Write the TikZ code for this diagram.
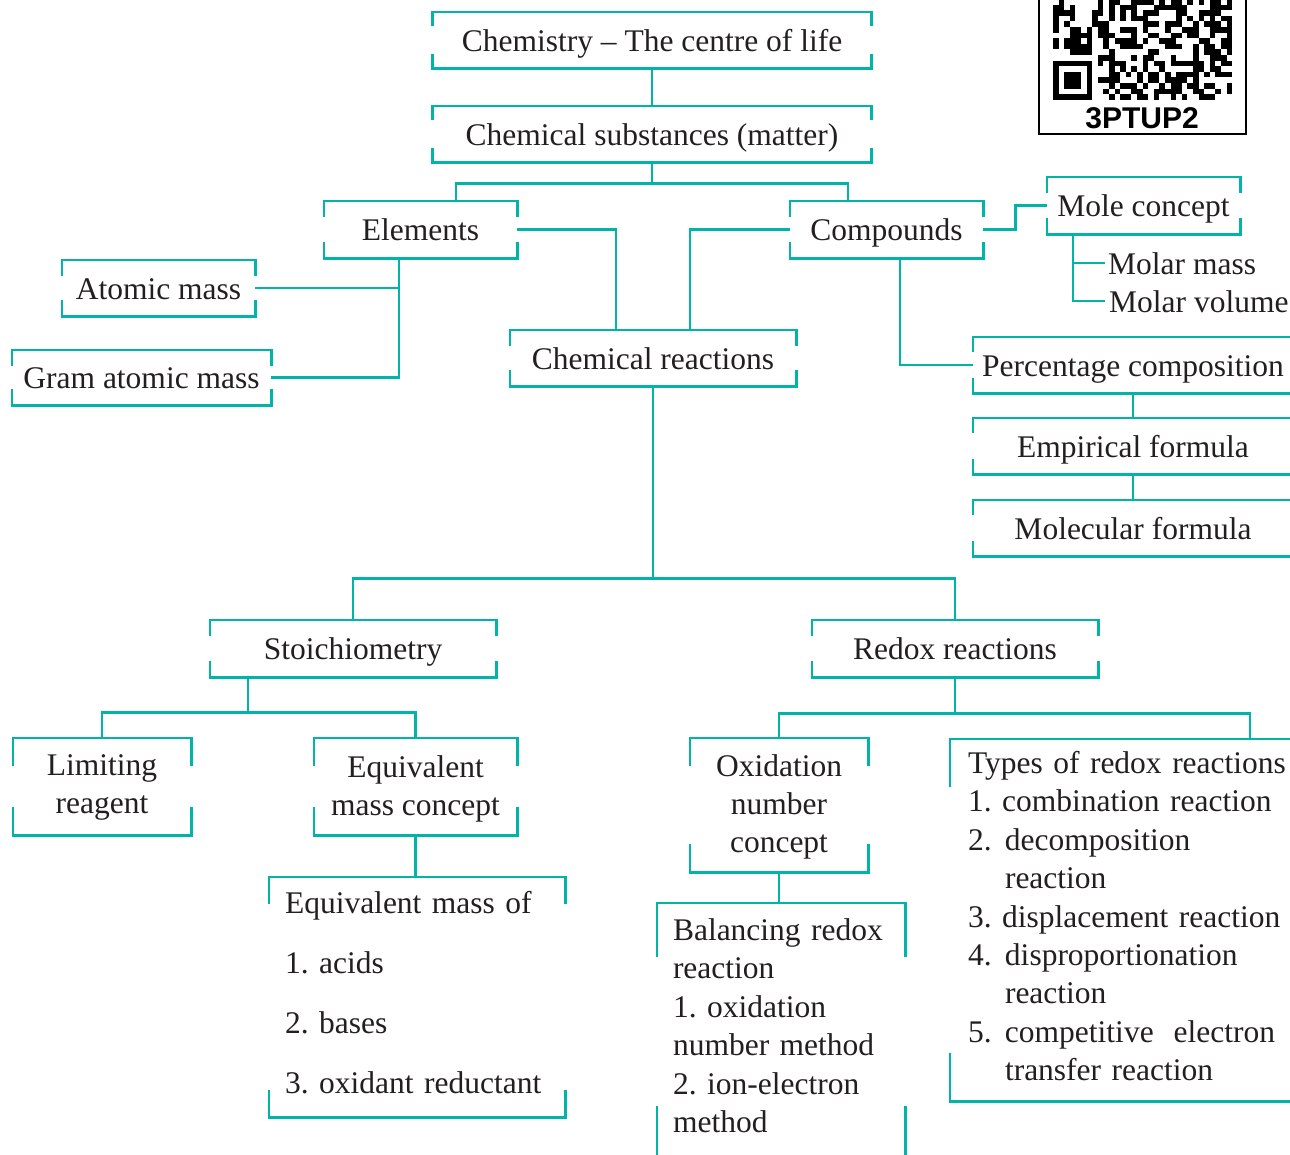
\documentclass[tikz,border=0pt]{standalone}
\usepackage{fontspec}
\setmainfont{Liberation Serif}
\newfontfamily\qrfont{Liberation Sans}
\usetikzlibrary{positioning,calc}

\definecolor{mapteal}{RGB}{0,180,170}
\definecolor{ink}{RGB}{35,31,32}
\newcommand{\mapfont}{\fontsize{31.5}{38.4}\selectfont}
% open box: top and bottom rules with short side ticks
\newcommand{\bframe}[2]{%
  \draw[link] ([yshift=-#2pt]#1.north west) -- (#1.north west) -- (#1.north east) -- ([yshift=-#2pt]#1.north east);
  \draw[link] ([yshift=#2pt]#1.south west) -- (#1.south west) -- (#1.south east) -- ([yshift=#2pt]#1.south east);}
\newcommand{\tp}[1]{\rule{0pt}{#1pt}}
\newcommand{\bt}[1]{\rule[-#1pt]{0pt}{#1pt}}
\frenchspacing

\begin{document}
\begin{tikzpicture}[x=1pt,y=-1pt,
  link/.style={draw=mapteal,line width=2.6pt},
  every node/.style={text=ink,font=\mapfont,inner sep=0pt},
  box/.style 2 args={minimum width=#1pt,minimum height=#2pt,align=center},
  one/.style={text height=22pt,text depth=0pt},
  lbox/.style 2 args={align=left,text width=#1pt,inner xsep=#2pt}]
  \useasboundingbox (0,0) rectangle (1290,1154);
  \clip (0,0) rectangle (1290,1154);

  \node[box={439}{56},one] (chem) at (652,40) {Chemistry – The centre of life};
  \node[box={439}{56},one] (subs) at (652,134) {Chemical substances (matter)};
  \node[box={193}{57},one] (elem) at (420.5,229.5) {Elements};
  \node[box={193}{57},one] (comp) at (886.5,229.5) {Compounds};
  \node[box={193}{57},one] (mole) at (1143.5,205.5) {Mole concept};
  \node[one,anchor=west,inner xsep=3pt] (molmass) at (1105,263) {Molar mass};
  \node[one,anchor=west,inner xsep=4pt] (molvol) at (1105,301) {Molar volume};
  \node[box={193}{56},one] (atom) at (158.5,288) {Atomic mass};
  \node[box={259}{55},one] (gram) at (141.5,377.5) {Gram atomic mass};
  \node[box={286}{56},one] (react) at (653,358) {Chemical reactions};
  \node[box={320}{56},one] (perc) at (1133,365) {Percentage composition};
  \node[box={320}{56},one] (empi) at (1133,446) {Empirical formula};
  \node[box={320}{56},one] (molf) at (1133,528) {Molecular formula};
  \node[box={286}{57},one] (stoi) at (353,648.5) {Stoichiometry};
  \node[box={286}{57},one] (redox) at (955,648.5) {Redox reactions};
  \node[box={178}{97}] (limit) at (102,786.5) {\tp{24}Limiting\\reagent\bt{8}};
  \node[box={203}{97}] (eqcon) at (415.5,786.5) {\tp{28}Equivalent\\mass concept\bt{7.5}};
  \node[box={178}{134}] (oxid) at (779,805) {\tp{27}Oxidation\\number\\concept\bt{8}};
  \node[lbox={264}{16},minimum height=240pt,font=\fontsize{31.5}{60}\selectfont] (eqof) at (417,997)
    {\tp{24}Equivalent mass of\\1. acids\\2. bases\\3. oxidant reductant\bt{12}};
  \node[lbox={216}{16},minimum height=257pt] (bal) at (781,1031.5)
    {\tp{24}Balancing redox\\reaction\\1. oxidation\\number method\\2. ion-electron\\method\bt{14}};
  \node[lbox={330}{18},minimum height=362pt] (types) at (1133,920)
    {\tp{24}Types of redox reactions\\
     1. combination reaction\\
     \makebox[37pt][l]{2.}decomposition\\
     \hspace*{37pt}reaction\\
     3. displacement reaction\\
     \makebox[37pt][l]{4.}disproportionation\\
     \hspace*{37pt}reaction\\
     \makebox[37pt][l]{5.}competitive\hspace{20pt}electron\\
     \hspace*{37pt}transfer reaction\bt{10}};

  \foreach \n/\t in {chem/14,subs/14,elem/16,comp/16,mole/16,atom/16,gram/16,react/16,
    perc/15,empi/15,molf/15,stoi/16,redox/16,limit/28,eqcon/28,oxid/28,eqof/27,bal/54,types/48}
    {\bframe{\n}{\t}}

  \draw[link] (chem) -- (subs);
  \draw[link] (subs.south) -- ++(0,21) coordinate (j1);
  \draw[link] ([xshift=35.5pt]elem.north) |- (j1) -| ([xshift=-38.5pt]comp.north);
  \draw[link] (elem.east) -| ([xshift=-37pt]react.north);
  \draw[link] (comp.west) -| ([xshift=37pt]react.north);
  \draw[link] (atom.east) -| ([xshift=-21.5pt]elem.south);
  \draw[link] ([xshift=-21.5pt]elem.south) |- (gram.east);
  \draw[link] (comp.east) -- ++(32,0) |- (mole.west);
  \draw[link] ([xshift=-70.5pt]mole.south) |- (molvol.west);
  \draw[link] (molmass.west) -- ++(-32,0);
  \draw[link] ([xshift=13.5pt]comp.south) |- (perc.west);
  \draw[link] (perc) -- (empi);
  \draw[link] (empi) -- (molf);
  \draw[link] (react.south) -- ++(0,192) coordinate (j2);
  \draw[link] (stoi.north) |- (j2) -| (redox.north);
  \draw[link] ([xshift=-105pt]stoi.south) -- ++(0,35) coordinate (j3);
  \draw[link] (limit.north) |- (j3) -| (eqcon.north);
  \draw[link] (eqcon.south) -- (eqcon.south |- eqof.north);
  \draw[link] (redox.south) -- ++(0,36) coordinate (j4);
  \draw[link] (oxid.north) |- (j4) -| ([xshift=117pt]types.north);
  \draw[link] (oxid.south) -- (oxid.south |- bal.north);

  % QR code corner
  \pgfmathsetseed{41}
  \foreach \r in {0,...,17}{
    \foreach \c in {0,...,31}{
      \pgfmathtruncatemacro{\qbit}{(rnd<0.5)&&!((\c<8)&&(\r>9))}
      \ifnum\qbit=1 \fill (1053+\c*5.6,-1+\r*5.6) rectangle ++(5.6,5.6); \fi
    }
  }
  \fill (1053,60.6) rectangle ++(39.2,39.2);
  \fill[white] (1058.6,66.2) rectangle ++(28,28);
  \fill (1064.2,71.8) rectangle ++(16.8,16.8);
  \node[text=black,font={\qrfont\bfseries\fontsize{30}{30}\selectfont}] (qrcode) at (1142,118) {3PTUP2};
  \draw[line width=1.8pt] (1039,-5) rectangle (1246,134);
\end{tikzpicture}
\end{document}
